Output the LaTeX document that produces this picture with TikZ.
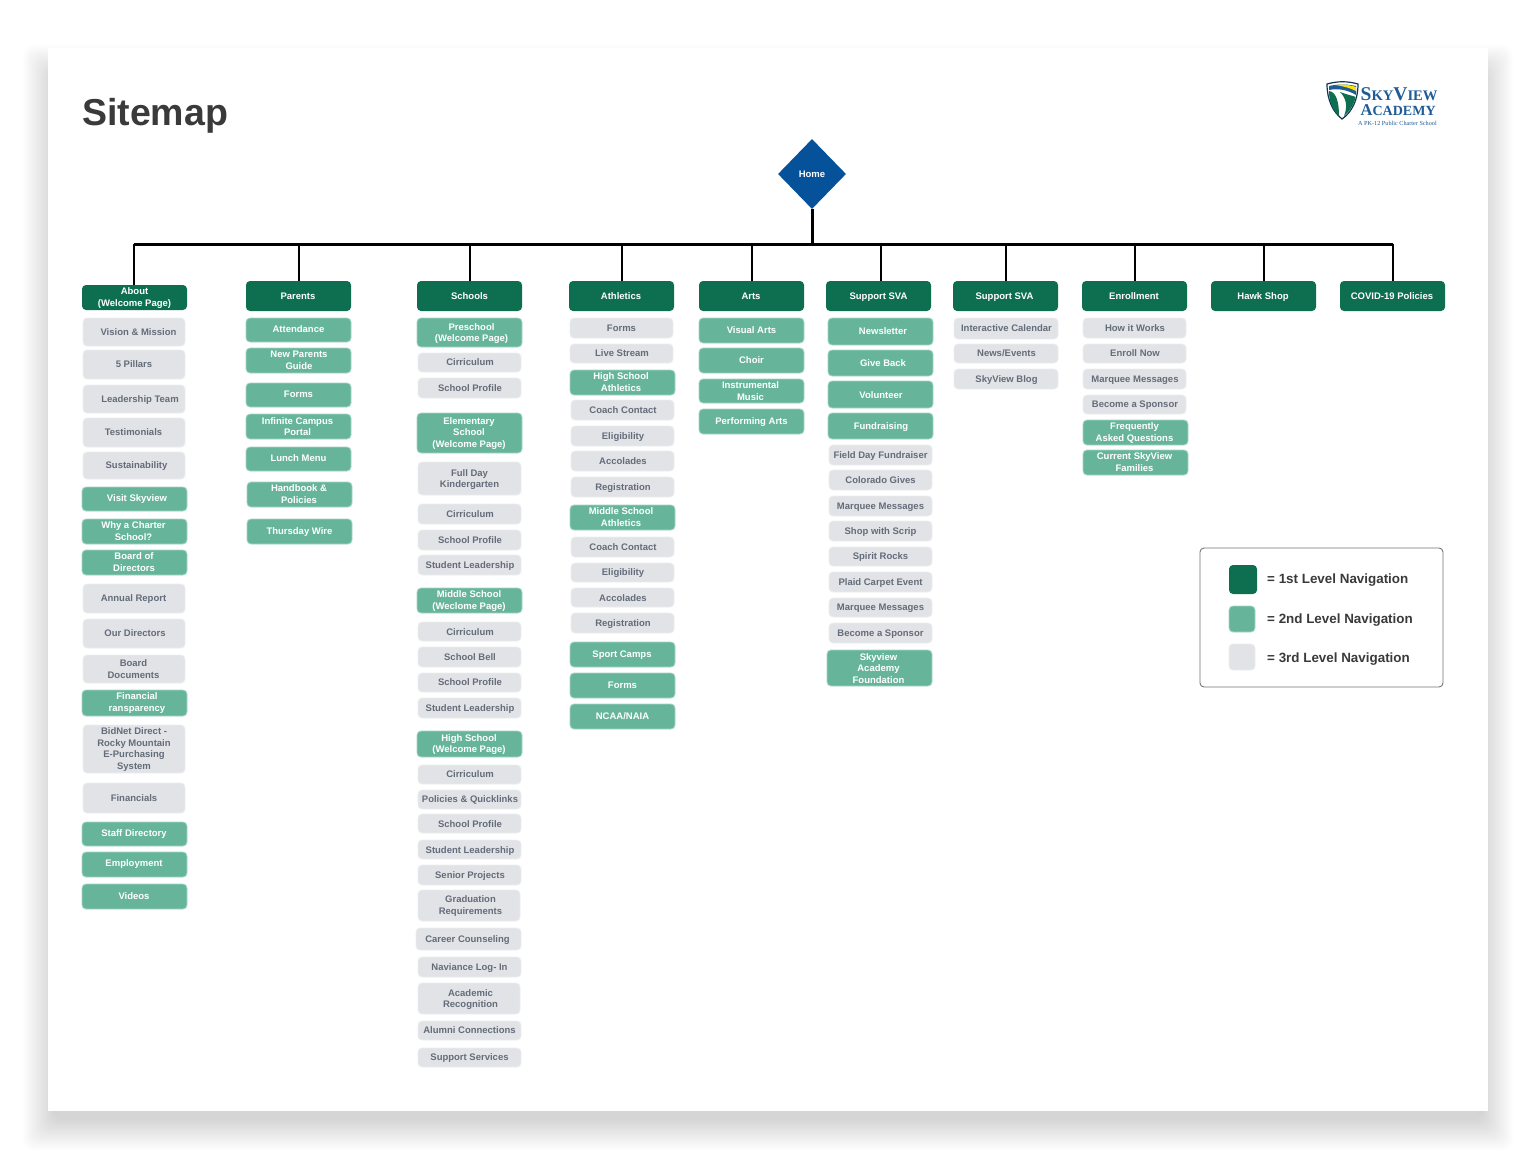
\documentclass[tikz,border=0pt]{standalone}
\usepackage{fontspec}
\setmainfont{Liberation Sans}
\newfontfamily\logofont{Liberation Serif}
\usetikzlibrary{shapes.geometric}
\definecolor{darkg}{HTML}{0E6E50}
\definecolor{midg}{HTML}{66B59B}
\definecolor{midgedge}{HTML}{A6D6C5}
\definecolor{lightg}{HTML}{E1E3E6}
\definecolor{lightedge}{HTML}{ECEEF0}
\definecolor{greytext}{HTML}{646C7A}
\definecolor{homeblue}{HTML}{05529B}
\definecolor{titlecol}{HTML}{3A3A3A}
\definecolor{logoblue}{HTML}{1F5C97}
\tikzset{
  bxbase/.style={rectangle,rounded corners=4pt,inner sep=0pt,outer sep=0pt},
  lvla/.style={bxbase,fill=darkg},
  lvlb/.style={bxbase,fill=midg,draw=midgedge,line width=.8pt},
  lvlc/.style={bxbase,fill=lightg,draw=lightedge,line width=.8pt},
  bxtext/.style={align=center,inner sep=0pt,font=\fontsize{9.5}{11.5}\selectfont\bfseries},
  lvlat/.style={bxtext,text=white},
  lvlbt/.style={bxtext,text=white},
  lvlct/.style={bxtext,text=greytext},
  busline/.style={line width=3pt,black,line cap=square},
  dropline/.style={line width=2pt,black},
  legendtext/.style={anchor=west,inner sep=0pt,text=titlecol,font=\fontsize{13.4}{15}\selectfont\bfseries},
}
% name, style, x1, y1, x2, y2, text x, text y, text
\newcommand{\bx}[9]{%
  \pgfmathsetmacro\bxw{#5-#3}\pgfmathsetmacro\bxh{#6-#4}%
  \pgfmathsetmacro\bxcx{(#3+#5)/2}\pgfmathsetmacro\bxcy{(#4+#6)/2}%
  \pgfmathsetmacro\bxdx{#7-\bxcx}\pgfmathsetmacro\bxdy{\bxcy-#8-1}%
  \node[#2,minimum width=\bxw pt,minimum height=\bxh pt,
    label={[#2t,xshift=\bxdx pt,yshift=\bxdy pt]center:{\vphantom{Ag}#9\vphantom{Ag}}}] (#1) at (\bxcx,\bxcy) {};%
}
\begin{document}
\begin{tikzpicture}[x=1pt,y=-1pt]
\useasboundingbox (0,0) rectangle (1536,1159);
\fill[white] (0,0) rectangle (1536,1159);
% card shadow
\foreach \e in {15,13.5,...,-15}{
  \fill[black,opacity=.007,rounded corners=10pt] (38-\e,60-\e) rectangle (1498+\e,1135+\e);
}
\fill[white] (48,48) rectangle (1488,1111);

\node[anchor=west,inner sep=0pt,text=titlecol,font=\fontsize{37.5}{40}\selectfont\bfseries] (title) at (82,116) {Sitemap};

% logo
\fill[white,draw=black!45!logoblue,line width=1.2pt] (1327,84) .. controls (1338,81) and (1347,81) .. (1358,84) .. controls (1358,100) and (1352,112) .. (1342,119) .. controls (1333,112) and (1327,100) .. (1327,84) -- cycle;
\fill[logoblue] (1329,86) .. controls (1338,84) and (1347,84) .. (1356,86) -- (1356,95) .. controls (1348,90) and (1338,88) .. (1329,90) -- cycle;
\fill[yellow!85!orange] (1335,85) .. controls (1343,84) and (1350,85) .. (1356,87) -- (1356,91) .. controls (1350,88) and (1343,86) .. (1335,85) -- cycle;
\fill[darkg] (1329,91) .. controls (1337,92) and (1339,104) .. (1339,116) .. controls (1333,110) and (1329,102) .. (1329,91) -- cycle;
\fill[darkg] (1340,92) .. controls (1348,95) and (1354,96) .. (1355.5,97) .. controls (1354,105) and (1349,112) .. (1344,116) .. controls (1348,106) and (1346,98) .. (1340,92) -- cycle;
\node[anchor=west,inner sep=0pt,text=logoblue,font=\logofont\bfseries] (logoa) at (1360.5,94.5)
  {\fontsize{19.5}{20}\selectfont S\fontsize{14.6}{20}\selectfont KY\fontsize{19.5}{20}\selectfont V\fontsize{14.6}{20}\selectfont IEW};
\node[anchor=west,inner sep=0pt,text=logoblue,font=\logofont\bfseries] (logob) at (1360.5,110)
  {\fontsize{16.5}{20}\selectfont A\fontsize{14}{20}\selectfont CADEMY};
\node[anchor=west,inner sep=0pt,text=logoblue,font=\logofont\fontsize{6.2}{7}\selectfont] (logoc) at (1358,123) {A PK-12 Public Charter School};

% home
\node[diamond,aspect=1,fill=homeblue,inner sep=0pt,minimum width=68pt,minimum height=70pt,text=white,font=\fontsize{9.5}{11.5}\selectfont\bfseries] (home) at (812,174) {Home};

% level 1
\bx{about}{lvla}{82}{285}{187}{310}{134.5}{297}{About\\(Welcome Page)}
\bx{parents}{lvla}{246}{281}{351}{311}{298}{296}{Parents}
\bx{schools}{lvla}{417}{281}{522}{311}{469.5}{296}{Schools}
\bx{athletics}{lvla}{569}{281}{674}{311}{621}{296}{Athletics}
\bx{arts}{lvla}{699}{281}{804}{311}{751}{296}{Arts}
\bx{support}{lvla}{826}{281}{931}{311}{878.5}{296}{Support SVA}
\bx{supportb}{lvla}{953}{281}{1058}{311}{1004.5}{296}{Support SVA}
\bx{enroll}{lvla}{1082}{281}{1187}{311}{1134}{296}{Enrollment}
\bx{hawk}{lvla}{1211}{281}{1316}{311}{1263}{296}{Hawk Shop}
\bx{covid}{lvla}{1340}{281}{1445}{311}{1392}{296}{COVID-19 Policies}

% bus
\coordinate (b1) at (134,244);
\coordinate (b2) at (298.5,244);
\coordinate (b3) at (469.5,244);
\coordinate (b4) at (622,244);
\coordinate (b5) at (751.5,244);
\coordinate (b6) at (880.5,244);
\coordinate (b7) at (1006,244);
\coordinate (b8) at (1135,244);
\coordinate (b9) at (1264,244);
\coordinate (b10) at (1393,244);
\draw[busline] (b1) -- (b10);
\draw[busline,line cap=butt] (home.south) -- (home.south |- b1);
\foreach \c/\n in {b1/about,b2/parents,b3/schools,b4/athletics,b5/arts,b6/support,b7/supportb,b8/enroll,b9/hawk,b10/covid}{
  \draw[dropline] (\c) -- (\c |- \n.north);
}

% About column
\bx{a1}{lvlc}{83}{318}{185}{346}{138.5}{332}{Vision \& Mission}
\bx{a2}{lvlc}{83}{350}{185}{379}{134}{364.5}{5 Pillars}
\bx{a3}{lvlc}{83}{385}{185}{413}{140}{399}{Leadership Team}
\bx{a4}{lvlc}{83}{418}{185}{447}{133.5}{432.5}{Testimonials}
\bx{a5}{lvlc}{83}{452}{185}{479}{136.5}{465.5}{Sustainability}
\bx{a6}{lvlb}{82}{487}{187}{511}{137}{498.5}{Visit Skyview}
\bx{a7}{lvlb}{82}{519}{187}{544}{133.5}{531}{Why a Charter\\School?}
\bx{a8}{lvlb}{82}{550}{187}{575}{134}{562}{Board of\\Directors}
\bx{a9}{lvlc}{83}{584}{185}{613}{133.5}{598.5}{Annual Report}
\bx{a10}{lvlc}{83}{619}{185}{648}{135}{633.5}{Our Directors}
\bx{a11}{lvlc}{83}{655}{185}{683}{133.5}{669}{Board\\Documents}
\bx{a12}{lvlb}{82}{690}{187}{716}{137}{702}{Financial\\ransparency}
\bx{a13}{lvlc}{83}{725}{185}{773}{134}{748.5}{BidNet Direct -\\Rocky Mountain\\E-Purchasing\\System}
\bx{a14}{lvlc}{83}{783}{185}{813}{134}{798}{Financials}
\bx{a15}{lvlb}{82}{822}{187}{846}{134}{833.5}{Staff Directory}
\bx{a16}{lvlb}{82}{852}{187}{877}{134}{863.5}{Employment}
\bx{a17}{lvlb}{82}{884}{187}{909}{134}{896.5}{Videos}

% Parents column
\bx{p1}{lvlb}{246}{318}{351}{342}{298.5}{329}{Attendance}
\bx{p2}{lvlb}{246}{348}{351}{373}{299}{360}{New Parents\\Guide}
\bx{p3}{lvlb}{246}{383}{351}{407}{298.5}{394.5}{Forms}
\bx{p4}{lvlb}{246}{414}{351}{439}{297.5}{426.5}{Infinite Campus\\Portal}
\bx{p5}{lvlb}{246}{447}{351}{471}{298.5}{458.5}{Lunch Menu}
\bx{p6}{lvlb}{247}{482}{352}{507}{299}{494}{Handbook \&\\Policies}
\bx{p7}{lvlb}{247}{519}{352}{544}{299.5}{531}{Thursday Wire}

% Schools column
\bx{s1}{lvlb}{417}{318}{522}{347}{471.5}{332.5}{Preschool\\(Welcome Page)}
\bx{s2}{lvlc}{418}{353}{521}{372}{470}{362.5}{Cirriculum}
\bx{s3}{lvlc}{418}{378}{521}{398}{470}{388}{School Profile}
\bx{s4}{lvlb}{417}{413}{522}{453}{469}{432.5}{Elementary\\School\\(Welcome Page)}
\bx{s5}{lvlc}{418}{462}{521}{495}{469.5}{478.5}{Full Day\\Kindergarten}
\bx{s6}{lvlc}{418}{504}{521}{524}{470}{514}{Cirriculum}
\bx{s7}{lvlc}{418}{530}{521}{550}{470}{540}{School Profile}
\bx{s8}{lvlc}{418}{555}{521}{575}{470}{565.5}{Student Leadership}
\bx{s9}{lvlb}{417}{588}{522}{613}{469}{600}{Middle School\\(Weclome Page)}
\bx{s10}{lvlc}{418}{622}{521}{641}{470}{632}{Cirriculum}
\bx{s11}{lvlc}{418}{647}{521}{667}{470}{657}{School Bell}
\bx{s12}{lvlc}{418}{673}{521}{692}{470}{682.5}{School Profile}
\bx{s13}{lvlc}{418}{698}{521}{718}{470}{708}{Student Leadership}
\bx{s14}{lvlb}{417}{731}{522}{757}{469}{743.5}{High School\\(Welcome Page)}
\bx{s15}{lvlc}{418}{765}{521}{784}{470}{774.5}{Cirriculum}
\bx{s16}{lvlc}{418}{790}{521}{809}{470}{799.5}{Policies \& Quicklinks}
\bx{s17}{lvlc}{418}{814}{521}{833}{470}{824}{School Profile}
\bx{s18}{lvlc}{418}{840}{521}{859}{470}{850}{Student Leadership}
\bx{s19}{lvlc}{418}{865}{521}{885}{470}{875}{Senior Projects}
\bx{s20}{lvlc}{418}{890}{520}{921}{470.5}{905}{Graduation\\Requirements}
\bx{s21}{lvlc}{416}{928}{521}{950}{467.5}{939}{Career Counseling}
\bx{s22}{lvlc}{418}{957}{521}{977}{469.5}{967}{Naviance Log- In}
\bx{s23}{lvlc}{418}{983}{520}{1014}{470.5}{998.5}{Academic\\Recognition}
\bx{s24}{lvlc}{418}{1021}{521}{1040}{469.5}{1030.5}{Alumni Connections}
\bx{s25}{lvlc}{418}{1048}{521}{1067}{469.5}{1057.5}{Support Services}

% Athletics column
\bx{t1}{lvlc}{570}{318}{673}{338}{621.5}{328}{Forms}
\bx{t2}{lvlc}{570}{344}{673}{363}{622}{353.5}{Live Stream}
\bx{t3}{lvlb}{570}{370}{675}{395}{621}{382}{High School\\Athletics}
\bx{t4}{lvlc}{571}{400}{674}{420}{623}{410}{Coach Contact}
\bx{t5}{lvlc}{571}{426}{674}{446}{623}{436}{Eligibility}
\bx{t6}{lvlc}{571}{451}{674}{471}{623}{461}{Accolades}
\bx{t7}{lvlc}{571}{477}{674}{497}{623}{487}{Registration}
\bx{t8}{lvlb}{570}{505}{675}{530}{621}{517}{Middle School\\Athletics}
\bx{t9}{lvlc}{571}{537}{674}{557}{623}{547}{Coach Contact}
\bx{t10}{lvlc}{571}{563}{674}{582}{623}{572.5}{Eligibility}
\bx{t11}{lvlc}{571}{588}{674}{607}{623}{598}{Accolades}
\bx{t12}{lvlc}{571}{613}{674}{633}{623}{623}{Registration}
\bx{t13}{lvlb}{570}{642}{675}{667}{622}{654.5}{Sport Camps}
\bx{t14}{lvlb}{570}{673}{675}{698}{622.5}{685.5}{Forms}
\bx{t15}{lvlb}{570}{704}{675}{729}{622.5}{716.5}{NCAA/NAIA}

% Arts column
\bx{r1}{lvlb}{699}{318}{804}{343}{751.5}{330.5}{Visual Arts}
\bx{r2}{lvlb}{699}{348}{804}{373}{751.5}{360}{Choir}
\bx{r3}{lvlb}{699}{379}{804}{403}{750.5}{391}{Instrumental\\Music}
\bx{r4}{lvlb}{699}{409}{804}{434}{751.5}{421}{Performing Arts}

% Support SVA column
\bx{v1}{lvlb}{828}{318}{933}{345}{883}{331}{Newsletter}
\bx{v2}{lvlb}{828}{350}{933}{376}{883}{363}{Give Back}
\bx{v3}{lvlb}{828}{381}{933}{408}{881}{395}{Volunteer}
\bx{v4}{lvlb}{828}{413}{933}{439}{881}{426}{Fundraising}
\bx{v5}{lvlc}{829}{445}{932}{465}{880.5}{455}{Field Day Fundraiser}
\bx{v6}{lvlc}{829}{470}{932}{490}{880.5}{480}{Colorado Gives}
\bx{v7}{lvlc}{829}{496}{932}{516}{880.5}{506}{Marquee Messages}
\bx{v8}{lvlc}{829}{521}{932}{541}{880.5}{531}{Shop with Scrip}
\bx{v9}{lvlc}{829}{547}{932}{566}{880.5}{556.5}{Spirit Rocks}
\bx{v10}{lvlc}{829}{572}{932}{592}{880.5}{582}{Plaid Carpet Event}
\bx{v11}{lvlc}{829}{598}{932}{617}{880.5}{607.5}{Marquee Messages}
\bx{v12}{lvlc}{829}{623}{932}{643}{880.5}{633}{Become a Sponsor}
\bx{v13}{lvlb}{827}{650}{932}{686}{878.5}{668.5}{Skyview\\Academy\\Foundation}

% Support SVA 2 column
\bx{w1}{lvlc}{954}{318}{1058}{339}{1006.5}{328.5}{Interactive Calendar}
\bx{w2}{lvlc}{954}{344}{1058}{363}{1006.5}{353.5}{News/Events}
\bx{w3}{lvlc}{954}{369}{1058}{389}{1006.5}{379}{SkyView Blog}

% Enrollment column
\bx{e1}{lvlc}{1083}{318}{1186}{338}{1135}{328}{How it Works}
\bx{e2}{lvlc}{1083}{344}{1186}{363}{1135}{353.5}{Enroll Now}
\bx{e3}{lvlc}{1083}{369}{1186}{389}{1135}{379.5}{Marquee Messages}
\bx{e4}{lvlc}{1083}{395}{1186}{414}{1135}{404.5}{Become a Sponsor}
\bx{e5}{lvlb}{1083}{420}{1188}{445}{1134.5}{432}{Frequently\\Asked Questions}
\bx{e6}{lvlb}{1083}{450}{1188}{475}{1134.5}{462}{Current SkyView\\Families}

% legend
\node[rectangle,rounded corners=4pt,draw=black!55,line width=.9pt,fill=white,inner sep=0pt,minimum width=243pt,minimum height=139pt] (legend) at (1321.5,617.5) {};
\node[lvla,minimum width=28pt,minimum height=29pt] (k1) at (1243,579.5) {};
\node[lvlb,minimum width=26pt,minimum height=26pt] (k2) at (1242,619) {};
\node[lvlc,minimum width=26pt,minimum height=26pt] (k3) at (1242,657) {};
\node[legendtext] (k1t) at (1267,580) {= 1st Level Navigation};
\node[legendtext] (k2t) at (1267,620.5) {= 2nd Level Navigation};
\node[legendtext] (k3t) at (1267,659) {= 3rd Level Navigation};
\end{tikzpicture}
\end{document}
